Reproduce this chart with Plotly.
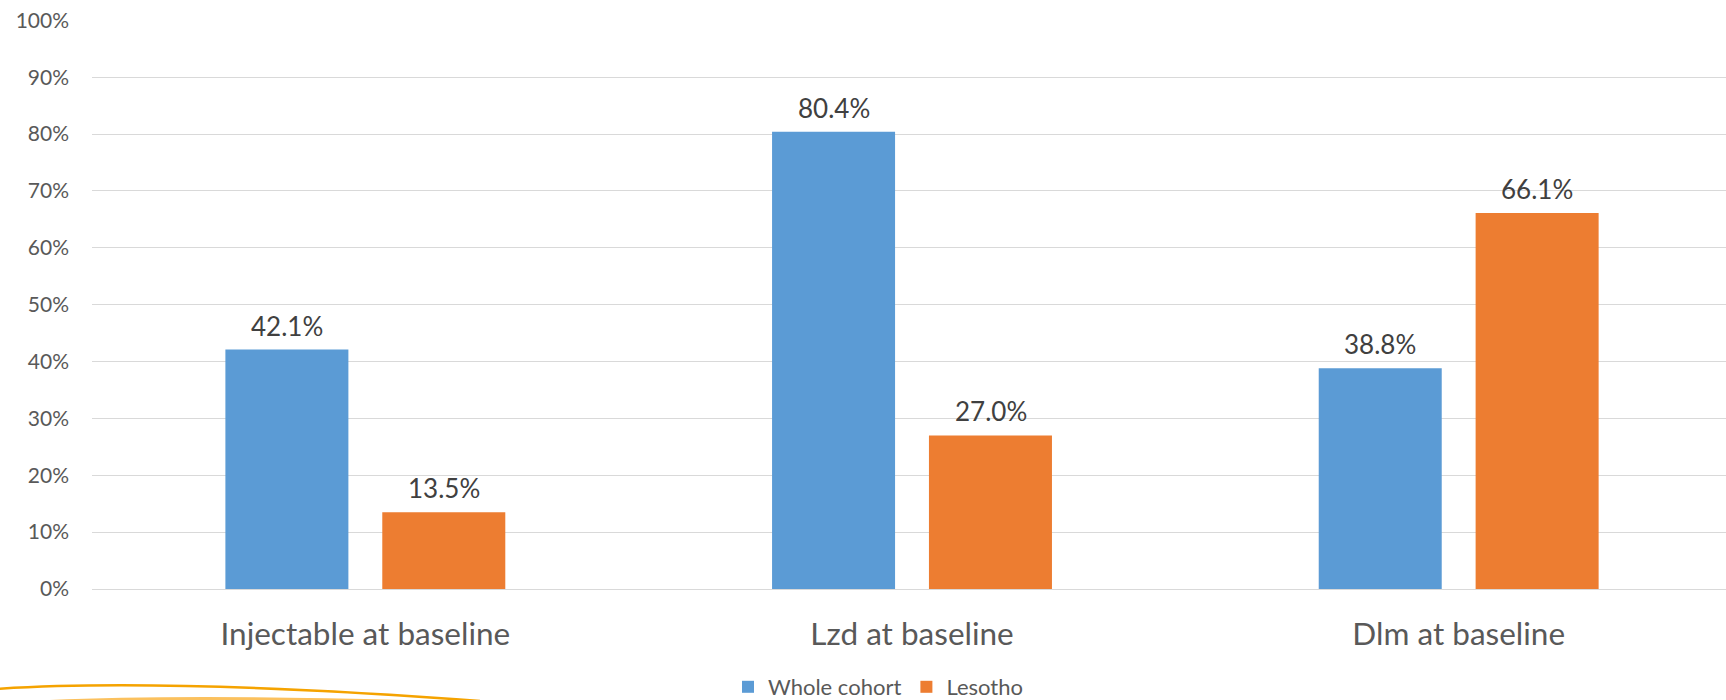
import plotly.graph_objects as go

categories = ["Injectable at baseline", "Lzd at baseline", "Dlm at baseline"]
whole_cohort = [0.421, 0.804, 0.388]
lesotho = [0.135, 0.270, 0.661]
series_names = ["Whole cohort", "Lesotho"]
series_colors = ["#5B9BD5", "#ED7D31"]
y_ticks = [i / 10 for i in range(0, 11)]
y_tick_labels = [f"{i * 10}%" for i in range(0, 11)]

W, H = 1726, 700
L, R, T, B = 92, 0, 20, 111
FONT = "Lato, 'Open Sans', sans-serif"
GROUP_SHIFT = 78.5  # px offset of each bar centre from category centre


def px_to_paper(x, y):
    return (x - L) / (W - L - R), (H - B - y) / (H - T - B)


fig = go.Figure()
annotations = []
for i, (name, vals, col) in enumerate(zip(series_names, [whole_cohort, lesotho], series_colors)):
    fig.add_trace(go.Bar(
        name=name, x=categories, y=vals,
        marker=dict(color=col, line=dict(width=0)),
    ))
    shift = -GROUP_SHIFT if i == 0 else GROUP_SHIFT
    for c, v in zip(categories, vals):
        annotations.append(dict(
            x=c, y=v, xref="x", yref="y", text=f"{v*100:.1f}%",
            showarrow=False, xanchor="center", yanchor="bottom",
            xshift=shift, yshift=6,
            font=dict(family=FONT, size=26, color="#404040"),
        ))


def path_from(points):
    pts = [px_to_paper(x, y) for x, y in points]
    return (f"M {pts[0][0]},{pts[0][1]} C {pts[1][0]},{pts[1][1]} "
            f"{pts[2][0]},{pts[2][1]} {pts[3][0]},{pts[3][1]}")


shapes = [
    dict(type="path", xref="paper", yref="paper",
         path=path_from([(-5, 689), (100, 682), (250, 684), (480, 701)]),
         line=dict(color="#F5A300", width=2.5)),
    dict(type="path", xref="paper", yref="paper",
         path=path_from([(30, 703), (120, 698), (260, 697), (470, 704)]),
         line=dict(color="#FBC15E", width=4)),
]

fig.update_layout(
    width=W, height=H,
    margin=dict(l=L, r=R, t=T, b=B, pad=0, autoexpand=False),
    paper_bgcolor="white", plot_bgcolor="white",
    barmode="group", bargap=0.426, bargroupgap=0.216,
    font=dict(family=FONT, color="#595959"),
    showlegend=True,
    legend=dict(orientation="h", x=px_to_paper(878, 0)[0], xanchor="center",
                y=px_to_paper(0, 687)[1], yanchor="middle",
                font=dict(family=FONT, size=22, color="#595959"),
                bgcolor="rgba(0,0,0,0)", itemclick=False, itemwidth=30,
                tracegroupgap=0),
    shapes=shapes,
    annotations=annotations,
)
fig.update_xaxes(
    type="category", range=[-0.5, 2.489],
    showgrid=False, zeroline=False,
    showline=True, linecolor="#D9D9D9", linewidth=1.3,
    ticks="", tickfont=dict(family=FONT, size=31.5, color="#595959"),
    ticklabelstandoff=17,
)
fig.update_yaxes(
    range=[0, 1.0005], tickvals=y_ticks, ticktext=y_tick_labels,
    showgrid=True, gridcolor="#D9D9D9", gridwidth=1.3,
    zeroline=False, showline=False, ticks="",
    tickfont=dict(family=FONT, size=21, color="#595959"),
    ticklabelstandoff=22,
)

fig.write_html("out.html")
